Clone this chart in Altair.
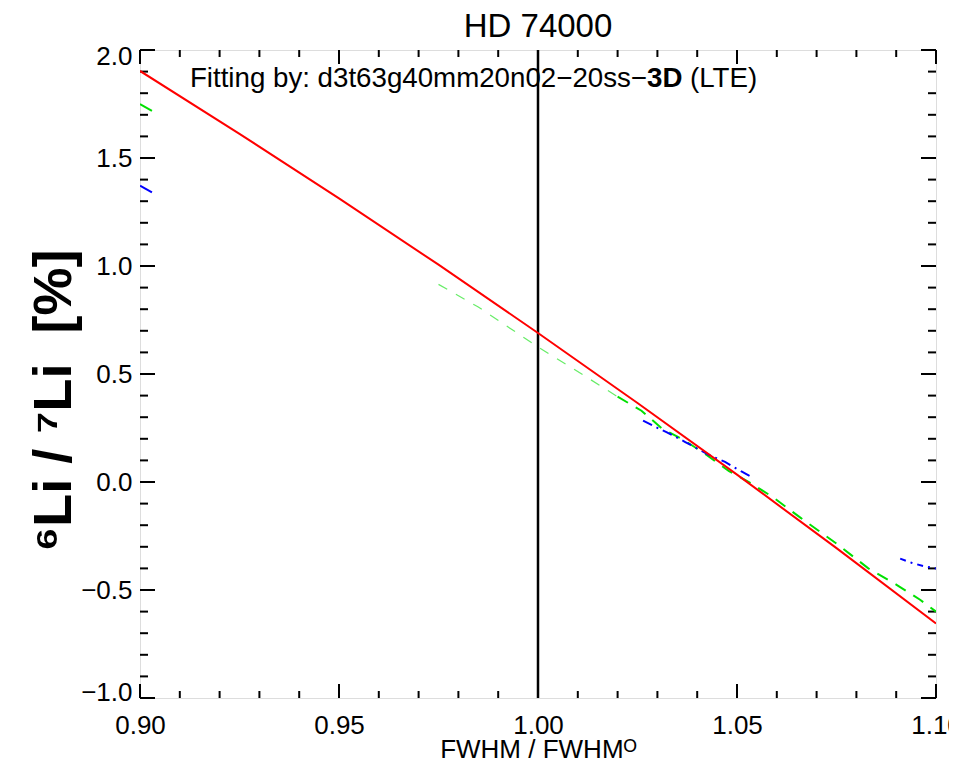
import altair as alt
import pandas as pd

# ---------------- data ----------------
red_x = [0.900, 0.925, 0.950, 0.975, 1.000, 1.025, 1.050, 1.075, 1.100]
red_y = [1.903, 1.612, 1.313, 1.006, 0.690, 0.366, 0.034, -0.306, -0.655]

green_left_x = [0.900, 0.903]
green_left_y = [1.750, 1.718]
green_faint_x = [0.975, 0.985, 0.997, 1.003, 1.009, 1.020]
green_faint_y = [0.915, 0.810, 0.662, 0.590, 0.523, 0.395]
green_main_x = [1.020, 1.026, 1.031, 1.037, 1.042, 1.048, 1.053, 1.059, 1.066,
                1.075, 1.083, 1.090, 1.096, 1.100]
green_main_y = [0.395, 0.330, 0.250, 0.190, 0.130, 0.050, 0.000, -0.070, -0.166,
                -0.285, -0.400, -0.475, -0.545, -0.600]

blue_left_x = [0.900, 0.903]
blue_left_y = [1.372, 1.341]
blue_mid_x = [1.0264, 1.0306, 1.0324, 1.037, 1.043, 1.047, 1.051, 1.054]
blue_mid_y = [0.284, 0.245, 0.230, 0.185, 0.125, 0.093, 0.050, 0.020]
blue_right_x = [1.091, 1.094, 1.097, 1.100]
blue_right_y = [-0.355, -0.375, -0.390, -0.400]

vline_x = [1.0]

x_major = [0.90, 0.95, 1.00, 1.05, 1.10]
x_minor = [0.91, 0.92, 0.93, 0.94, 0.96, 0.97, 0.98, 0.99,
           1.01, 1.02, 1.03, 1.04, 1.06, 1.07, 1.08, 1.09]
y_major = [-1.0, -0.5, 0.0, 0.5, 1.0, 1.5, 2.0]
y_minor = [-0.9, -0.8, -0.7, -0.6, -0.4, -0.3, -0.2, -0.1,
           0.1, 0.2, 0.3, 0.4, 0.6, 0.7, 0.8, 0.9,
           1.1, 1.2, 1.3, 1.4, 1.6, 1.7, 1.8, 1.9]

title_text = "HD 74000"
x_title = "FWHM / FWHM\u1d3c"
y_title = "\u2076Li / \u2077Li\u00a0 [%]"
ann_part1 = "Fitting by: d3t63g40mm20n02\u221220ss\u2212"
ann_part2 = "3D"
ann_part3 = "(LTE)"
ann_x = [1.0274]
ann_y = [1.829]

# ---------------- chart ----------------
W, H = 796, 648
FONT = "Liberation Sans"
xs = alt.Scale(domain=[0.9, 1.1], nice=False, zero=False)
ys = alt.Scale(domain=[-1.0, 2.0], nice=False, zero=False)

x_axis = alt.Axis(
    values=x_major, format=".2f", title=x_title, ticks=False, tickSize=0,
    domain=False, grid=False, labelFont=FONT, labelFontSize=26,
    labelColor="black", labelPadding=14, labelFlush=False,
    titleFont=FONT, titleFontSize=26,
    titleFontWeight="normal", titleColor="black", titleY=59,
    titleBaseline="alphabetic",
)
y_axis = alt.Axis(
    values=y_major, format=".1f", title=y_title, ticks=False, tickSize=0,
    domain=False, grid=False, labelFont=FONT, labelFontSize=26,
    labelColor="black", labelPadding=8, labelFlush=True, labelFlushOffset=7,
    titleFont=FONT, titleFontSize=54, titleFontWeight="bold",
    titleColor="black", titleAngle=270, titleX=-86, titleY=350,
    titleAlign="center", titleBaseline="middle",
)


def X(field):
    return alt.X(field, scale=xs, axis=x_axis)


def Y(field):
    return alt.Y(field, scale=ys, axis=y_axis)


def line_layer(xv, yv, color, width, dash=None, opacity=1.0):
    df = pd.DataFrame({"x": xv, "y": yv, "o": list(range(len(xv)))})
    kw = dict(color=color, strokeWidth=width, opacity=opacity, clip=True)
    if dash:
        kw["strokeDash"] = dash
    return alt.Chart(df).mark_line(**kw).encode(
        x=X("x:Q"), y=Y("y:Q"), order="o:Q"
    )


def yticks(vals, length, side):
    df = pd.DataFrame({"v": vals})
    a, b = (0, length) if side == "left" else (W - length, W)
    return alt.Chart(df).mark_rule(color="black", strokeWidth=2).encode(
        y=Y("v:Q"), x=alt.value(a), x2=alt.value(b)
    )


def xticks(vals, length, side):
    df = pd.DataFrame({"v": vals})
    a, b = (H - length, H) if side == "bottom" else (0, length)
    return alt.Chart(df).mark_rule(color="black", strokeWidth=2).encode(
        x=X("v:Q"), y=alt.value(a), y2=alt.value(b)
    )


vline = alt.Chart(pd.DataFrame({"v": vline_x})).mark_rule(
    color="black", strokeWidth=2.5
).encode(x=X("v:Q"))

ann_df = pd.DataFrame({"x": ann_x, "y": ann_y})
AF = 27.7
ann1 = alt.Chart(ann_df).mark_text(
    text=ann_part1, font=FONT, fontSize=AF, align="right", baseline="alphabetic", color="black"
).encode(x=X("x:Q"), y=Y("y:Q"))
ann2 = alt.Chart(ann_df).mark_text(
    text=ann_part2, font=FONT, fontSize=AF, fontWeight="bold", align="left",
    baseline="alphabetic", color="black"
).encode(x=X("x:Q"), y=Y("y:Q"))
ann3 = alt.Chart(ann_df).mark_text(
    text=ann_part3, font=FONT, fontSize=AF, align="left", baseline="alphabetic",
    color="black", dx=43
).encode(x=X("x:Q"), y=Y("y:Q"))

title_mark = alt.Chart(pd.DataFrame({"t": [title_text]})).mark_text(
    font=FONT, fontSize=33, align="center", baseline="alphabetic", color="black"
).encode(text="t:N", x=alt.value(W / 2), y=alt.value(-13))

layers = [
    yticks(y_major, 15, "left"), yticks(y_minor, 8, "left"),
    yticks(y_major, 15, "right"), yticks(y_minor, 8, "right"),
    xticks(x_major, 14, "bottom"), xticks(x_minor, 7, "bottom"),
    xticks(x_major, 14, "top"), xticks(x_minor, 7, "top"),
    vline,
    line_layer(green_left_x, green_left_y, "#00e000", 2),
    line_layer(green_faint_x, green_faint_y, "#00e000", 1.2, dash=[10, 10], opacity=0.6),
    line_layer(green_main_x, green_main_y, "#00e000", 2, dash=[12, 9]),
    line_layer(blue_left_x, blue_left_y, "#0000ff", 2),
    line_layer(blue_mid_x, blue_mid_y, "#0000ff", 2, dash=[10, 5, 2, 5]),
    line_layer(blue_right_x, blue_right_y, "#0000ff", 2, dash=[6, 5, 2, 5]),
    line_layer(red_x, red_y, "#ff0000", 2),
    ann1, ann2, ann3,
    title_mark,
]

chart = alt.layer(*layers).properties(
    width=W,
    height=H,
    autosize=alt.AutoSizeParams(type="none"),
    padding={"left": 132, "top": 42, "right": 13, "bottom": 63},
).configure_view(stroke="black", strokeWidth=2).configure(background="white")

chart.save("out.html", embed_options={"renderer": "svg", "actions": False})
